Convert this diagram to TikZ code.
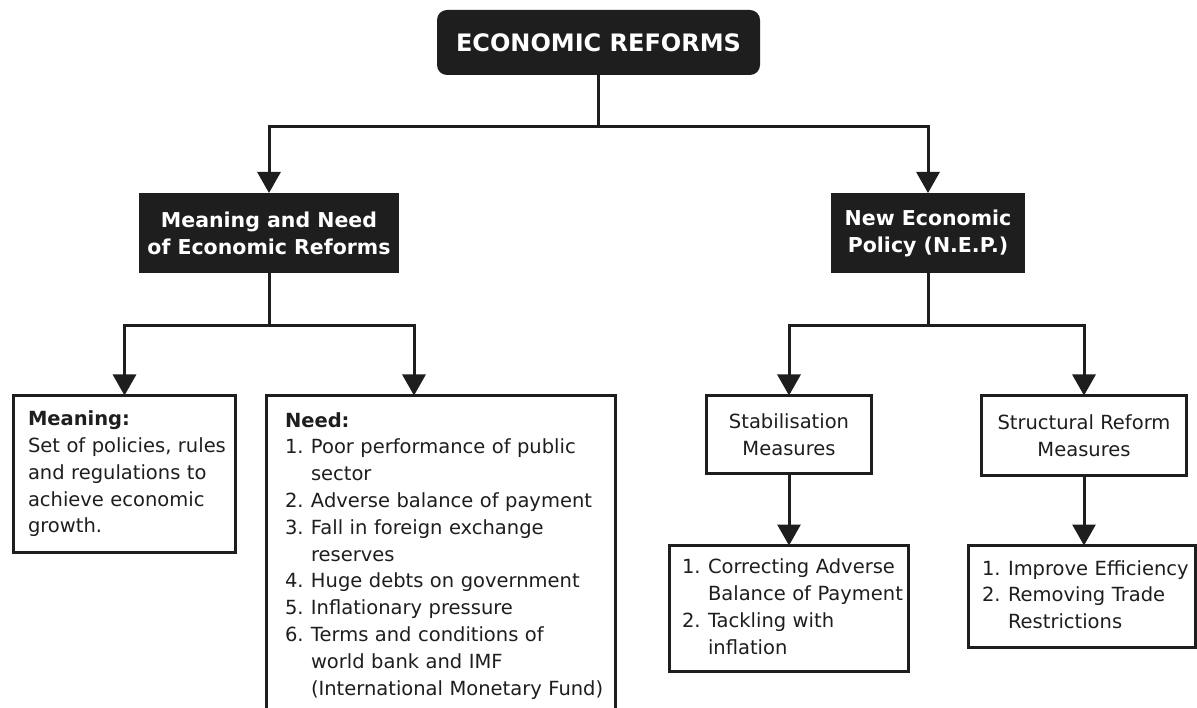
\documentclass[tikz,border=0pt]{standalone}
\usepackage{fontspec}
\setmainfont{DejaVu Sans}
\usetikzlibrary{arrows.meta}
\definecolor{ink}{HTML}{1E1E1E}
\newcommand\rows[1]{\noindent\begin{tabular}{@{}l@{}}#1\end{tabular}}
\newcommand\nm[1]{\makebox[26pt][l]{#1}}
\newcommand\ind{\hspace*{26pt}}
\begin{document}
\begin{tikzpicture}[x=1pt,y=-1pt,
  every node/.style={outer sep=0pt, inner sep=0pt, text=ink},
  conn/.style={draw=ink, line width=3pt, -{Triangle[width=23pt,length=21pt]}},
  darkbox/.style={fill=ink, text=white, font=\bfseries\fontsize{20.5pt}{27pt}\selectfont, align=center},
  framebox/.style={draw=ink, line width=3pt, font=\fontsize{19.5pt}{26.5pt}\selectfont, align=center},
  listbox/.style={draw=ink, line width=3pt, font=\fontsize{19.5pt}{26.8pt}\selectfont, align=left, anchor=north west},
]
\useasboundingbox (0,0) rectangle (1197,708);
\clip (0,0) rectangle (1197,708);
\fill[white] (0,0) rectangle (1197,708);

\node[darkbox, rounded corners=10pt, minimum width=323pt, minimum height=65pt,
      font=\bfseries\fontsize{24pt}{28pt}\selectfont] (top) at (598.5,42.5) {ECONOMIC REFORMS};

\node[darkbox, minimum width=260pt, minimum height=80pt] (mean) at (269,233)
  {Meaning and Need\\of Economic Reforms};
\node[darkbox, minimum width=194pt, minimum height=80pt] (nep) at (928,233)
  {New Economic\\Policy (N.E.P.)};

\node[listbox, minimum width=222pt, minimum height=157pt, inner xsep=14.5pt, text width=193pt] (meaning) at (13.5,395.5)
  {\rows{\textbf{Meaning:}\\Set of policies, rules\\and regulations to\\achieve economic\\growth.}};

\node[listbox, minimum width=349pt, minimum height=320.5pt, inner xsep=18.5pt, text width=312pt] (need) at (266.5,395.5)
  {\rows{\textbf{Need:}\\
  \nm{1.}Poor performance of public\\
  \ind sector\\
  \nm{2.}Adverse balance of payment\\
  \nm{3.}Fall in foreign exchange\\
  \ind reserves\\
  \nm{4.}Huge debts on government\\
  \nm{5.}Inflationary pressure\\
  \nm{6.}Terms and conditions of\\
  \ind world bank and IMF\\
  \ind (International Monetary Fund)}};

\node[framebox, minimum width=165pt, minimum height=78pt] (stab) at (789,434.5)
  {Stabilisation\\Measures};
\node[framebox, minimum width=205pt, minimum height=80pt] (struct) at (1084,435.5)
  {Structural Reform\\Measures};

\node[listbox, minimum width=239pt, minimum height=126pt, inner xsep=12.5pt, text width=214pt] (corr) at (669.5,545.5)
  {\rows{\nm{1.}Correcting Adverse\\
  \ind Balance of Payment\\
  \nm{2.}Tackling with\\
  \ind inflation}};

\node[listbox, minimum width=226.5pt, minimum height=102pt, inner xsep=13.5pt, text width=199.5pt] (impr) at (968.5,545.5)
  {\rows{\nm{1.}Improve Efficiency\\
  \nm{2.}Removing Trade\\
  \ind Restrictions}};

\draw[conn] (top.south) -- ++(0,52) -| (mean.north);
\draw[conn] (top.south) -- ++(0,52) -| (nep.north);
\draw[conn] (mean.south) -- ++(0,53) -| (meaning.north);
\draw[conn] (mean.south) -- ++(0,53) -| ([xshift=-27pt]need.north);
\draw[conn] (nep.south) -- ++(0,53) -| (stab.north);
\draw[conn] (nep.south) -- ++(0,53) -| (struct.north);
\draw[conn] (stab.south) -- (corr.north);
\draw[conn] (struct.south) -- (struct.south |- impr.north);
\end{tikzpicture}
\end{document}
